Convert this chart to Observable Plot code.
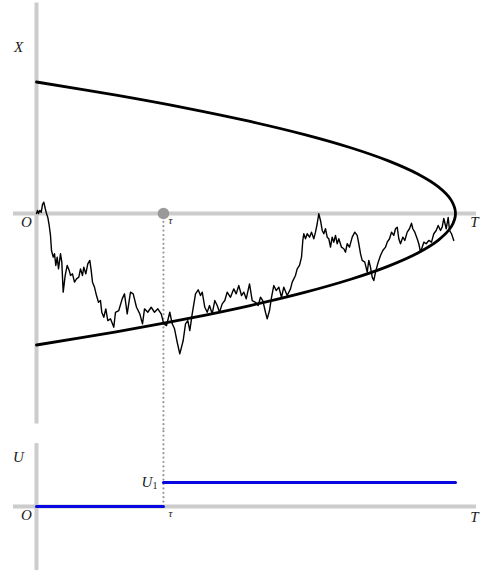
<!DOCTYPE html>
<html>
<head>
<meta charset="utf-8">
<script src="https://cdn.jsdelivr.net/npm/d3@7"></script>
<script src="https://cdn.jsdelivr.net/npm/@observablehq/plot@0.6"></script>
<style>
  html, body { margin: 0; padding: 0; background: #fff; }
  #chart svg { display: block; }
</style>
</head>
<body>
<div id="chart"></div>
<script>
// Time runs from 0 to T = 1; the stopping time tau is where the path first touches the boundary.
const T = 1;
const tau = 0.303;
const U1 = 1;

// Boundary ±sqrt(T - t), listed along its height b.
const boundB = [1, 0.9, 0.8, 0.7, 0.6, 0.5, 0.4, 0.3, 0.2, 0.1, 0, -0.1, -0.2, -0.3, -0.4, -0.5, -0.6, -0.7, -0.8, -0.9, -1];
const boundT = [0, 0.19, 0.36, 0.51, 0.64, 0.75, 0.84, 0.91, 0.96, 0.99, 1, 0.99, 0.96, 0.91, 0.84, 0.75, 0.64, 0.51, 0.36, 0.19, 0];

// Sample path X(t).
const pathT = [0, 0.0024, 0.0048, 0.0079, 0.0112, 0.0143, 0.0174, 0.0208, 0.0239, 0.0270,
  0.0303, 0.0334, 0.0358, 0.0399, 0.0430, 0.0461, 0.0494, 0.0525, 0.0573, 0.0604,
  0.0637, 0.0685, 0.0733, 0.0780, 0.0811, 0.0859, 0.0907, 0.0955, 0.1010, 0.1050,
  0.1098, 0.1129, 0.1177, 0.1224, 0.1272, 0.1305, 0.1337, 0.1384, 0.1432, 0.1480,
  0.1527, 0.1558, 0.1606, 0.1654, 0.1702, 0.1766, 0.1845, 0.1885, 0.1964, 0.2045,
  0.2100, 0.2165, 0.2243, 0.2308, 0.2387, 0.2465, 0.2530, 0.2578, 0.2656, 0.2737,
  0.2816, 0.2895, 0.2976, 0.3038, 0.3103, 0.3181, 0.3239, 0.3294, 0.3358, 0.3420,
  0.3501, 0.3556, 0.3611, 0.3659, 0.3716, 0.3795, 0.3859, 0.3914, 0.3955, 0.4017,
  0.4074, 0.4129, 0.4193, 0.4255, 0.4313, 0.4368, 0.4432, 0.4494, 0.4551, 0.4630,
  0.4709, 0.4766, 0.4828, 0.4893, 0.4948, 0.5005, 0.5084, 0.5148, 0.5227, 0.5291,
  0.5346, 0.5401, 0.5465, 0.5506, 0.5561, 0.5609, 0.5663, 0.5721, 0.5783, 0.5847,
  0.5902, 0.5983, 0.6062, 0.6103, 0.6181, 0.6222, 0.6277, 0.6325, 0.6356, 0.6379,
  0.6420, 0.6461, 0.6516, 0.6563, 0.6618, 0.6659, 0.6699, 0.6737, 0.6778, 0.6819,
  0.6857, 0.6897, 0.6938, 0.6976, 0.7017, 0.7057, 0.7096, 0.7136, 0.7177, 0.7215,
  0.7279, 0.7334, 0.7375, 0.7415, 0.7470, 0.7535, 0.7597, 0.7654, 0.7692, 0.7733,
  0.7773, 0.7835, 0.7893, 0.7931, 0.7971, 0.8012, 0.8050, 0.8091, 0.8155, 0.8210,
  0.8265, 0.8329, 0.8370, 0.8425, 0.8473, 0.8527, 0.8568, 0.8609, 0.8647, 0.8687,
  0.8742, 0.8790, 0.8847, 0.8902, 0.8950, 0.8981, 0.9029, 0.9086, 0.9124, 0.9165,
  0.9205, 0.9244, 0.9301, 0.9363, 0.9427, 0.9482, 0.9539, 0.9587, 0.9642, 0.9682,
  0.9721, 0.9778, 0.9826, 0.9857, 0.9905, 0.9959];
const pathX = [0, 0.023, 0, 0.023, 0.008, 0.068, 0.086, 0.038, 0, -0.030,
  -0.091, -0.167, -0.281, -0.332, -0.306, -0.395, -0.332, -0.421, -0.306, -0.370,
  -0.598, -0.471, -0.395, -0.433, -0.471, -0.459, -0.522, -0.497, -0.484, -0.421,
  -0.471, -0.408, -0.459, -0.383, -0.357, -0.433, -0.522, -0.560, -0.624, -0.675,
  -0.662, -0.751, -0.789, -0.725, -0.814, -0.801, -0.865, -0.751, -0.738, -0.649,
  -0.611, -0.763, -0.598, -0.611, -0.713, -0.763, -0.839, -0.725, -0.751, -0.713,
  -0.751, -0.725, -0.763, -0.839, -0.852, -0.751, -0.839, -0.877, -0.979, -1.067,
  -0.966, -0.839, -0.814, -0.890, -0.763, -0.611, -0.580, -0.624, -0.598, -0.713,
  -0.751, -0.700, -0.763, -0.662, -0.700, -0.751, -0.687, -0.662, -0.598, -0.637,
  -0.573, -0.611, -0.548, -0.624, -0.598, -0.649, -0.535, -0.662, -0.675, -0.700,
  -0.637, -0.662, -0.751, -0.801, -0.738, -0.637, -0.548, -0.586, -0.560, -0.637,
  -0.560, -0.624, -0.573, -0.522, -0.471, -0.421, -0.395, -0.332, -0.205, -0.154,
  -0.192, -0.154, -0.180, -0.142, -0.192, -0.142, -0.078, -0.002, -0.053, -0.129,
  -0.154, -0.116, -0.180, -0.192, -0.256, -0.180, -0.218, -0.167, -0.230, -0.192,
  -0.256, -0.268, -0.294, -0.230, -0.256, -0.180, -0.142, -0.167, -0.230, -0.306,
  -0.357, -0.370, -0.446, -0.357, -0.408, -0.484, -0.510, -0.446, -0.370, -0.319,
  -0.281, -0.256, -0.218, -0.192, -0.142, -0.167, -0.116, -0.104, -0.192, -0.230,
  -0.180, -0.205, -0.142, -0.116, -0.074, -0.116, -0.142, -0.192, -0.230, -0.294,
  -0.256, -0.218, -0.230, -0.205, -0.218, -0.154, -0.129, -0.091, -0.129, -0.104,
  -0.038, -0.116, -0.030, -0.129, -0.154, -0.205];

// Control U(t): 0 before tau, U1 from tau to T.
const controlT = [0, tau, tau, T];
const controlU = [0, 0, U1, U1];

const boundary = boundB.map((b, i) => ({t: boundT[i], v: b}));
const path = pathT.map((t, i) => ({t, v: pathX[i]}));
const control = [
  {t: controlT[0], u: controlU[0], seg: "before"},
  {t: controlT[1], u: controlU[1], seg: "before"},
  {t: controlT[2], u: controlU[2], seg: "after"},
  {t: controlT[3], u: controlU[3], seg: "after"}
];

const axisGray = "#cccccc";
const dotGray = "#999999";
const font = "'Liberation Serif', 'DejaVu Serif', serif";
const label = {fontFamily: font, fontStyle: "italic", fontSize: 15, fill: "#1a1a1a"};
const small = {fontFamily: font, fontSize: 10, fill: "#1a1a1a"};
const xScale = {domain: [0, T], range: [36, 455]};
const dotted = {stroke: dotGray, strokeWidth: 2.2, strokeDasharray: "0,4.4", strokeLinecap: "round"};

const statePanel = Plot.plot({
  width: 488,
  height: 430,
  margin: 0,
  x: {...xScale, axis: null},
  y: {domain: [-1, 1], range: [344.5, 81.5], axis: null},
  marks: [
    Plot.ruleY([0], {x1: -0.055, x2: 1.05, stroke: axisGray, strokeWidth: 4}),
    Plot.ruleX([0], {y1: -1.6, y2: 1.6, stroke: axisGray, strokeWidth: 4}),
    Plot.ruleX([tau], {y1: 0, y2: -1.75, ...dotted}),
    Plot.line(boundary, {x: "t", y: "v", curve: "catmull-rom", stroke: "black", strokeWidth: 2.8}),
    Plot.line(path, {x: "t", y: "v", stroke: "black", strokeWidth: 1.4, strokeLinejoin: "round"}),
    Plot.dot([tau], {x: d => d, y: 0, r: 5.8, fill: dotGray, stroke: "none"}),
    Plot.text(["X"], {x: 0, y: 1.262, dx: -18, ...label}),
    Plot.text(["O"], {x: 0, y: 0, dx: -10, dy: 9, ...label}),
    Plot.text(["T"], {x: T, y: 0, dx: 19, dy: 9, ...label}),
    Plot.text(["τ"], {x: tau, y: 0, dx: 7, dy: 7, ...label, fontSize: 11})
  ]
});

const controlPanel = Plot.plot({
  width: 488,
  height: 143,
  margin: 0,
  x: {...xScale, axis: null},
  y: {domain: [0, U1], range: [76, 52], axis: null},
  marks: [
    Plot.ruleY([0], {x1: -0.055, x2: 1.05, stroke: axisGray, strokeWidth: 4}),
    Plot.ruleX([0], {y1: -2.67, y2: 2.62, stroke: axisGray, strokeWidth: 4}),
    Plot.ruleX([tau], {y1: 3.3, y2: 0, ...dotted}),
    Plot.line(control, {x: "t", y: "u", z: "seg", stroke: "#0808e0", strokeWidth: 3}),
    Plot.text(["U"], {x: 0, y: 2.04, dx: -18, ...label}),
    Plot.text(["U"], {x: tau, y: U1, dx: -11, textAnchor: "end", ...label}),
    Plot.text(["1"], {x: tau, y: U1, dx: -6, dy: 3, textAnchor: "end", ...small}),
    Plot.text(["O"], {x: 0, y: 0, dx: -10, dy: 9, ...label}),
    Plot.text(["τ"], {x: tau, y: 0, dx: 7, dy: 7, ...label, fontSize: 11}),
    Plot.text(["T"], {x: T, y: 0, dx: 19, dy: 11, ...label})
  ]
});

document.getElementById("chart").append(statePanel, controlPanel);
</script>
</body>
</html>
